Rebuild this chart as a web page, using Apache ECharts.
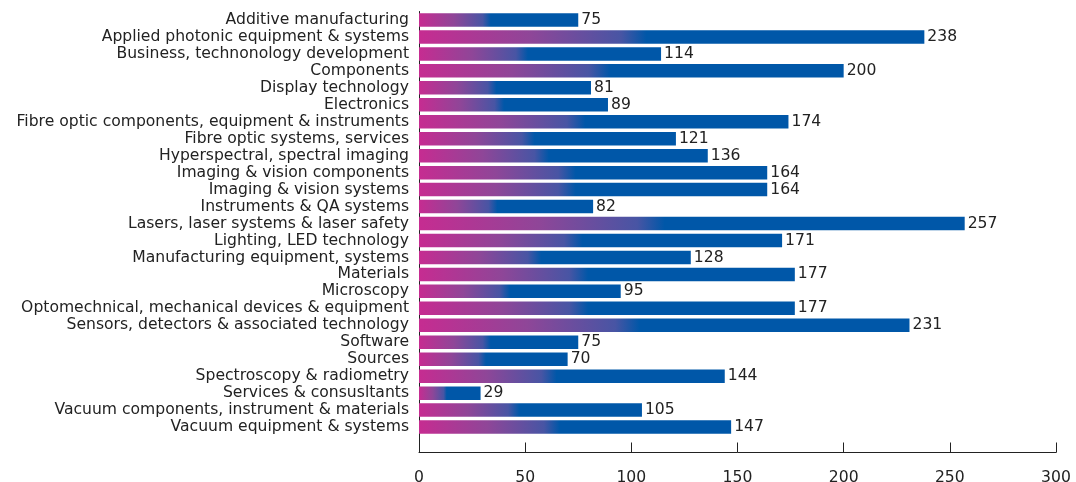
<!DOCTYPE html>
<html>
<head>
<meta charset="utf-8">
<script src="https://cdn.jsdelivr.net/npm/echarts@6/dist/echarts.min.js"></script>
<style>
html,body{margin:0;padding:0;background:#fff;}
#chart{width:1076px;height:482px;}
</style>
</head>
<body>
<div id="chart"></div>
<script>
const categories = [
  "Additive manufacturing",
  "Applied photonic equipment & systems",
  "Business, technonology development",
  "Components",
  "Display technology",
  "Electronics",
  "Fibre optic components, equipment & instruments",
  "Fibre optic systems, services",
  "Hyperspectral, spectral imaging",
  "Imaging & vision components",
  "Imaging & vision systems",
  "Instruments & QA systems",
  "Lasers, laser systems & laser safety",
  "Lighting, LED technology",
  "Manufacturing equipment, systems",
  "Materials",
  "Microscopy",
  "Optomechnical, mechanical devices & equipment",
  "Sensors, detectors & associated technology",
  "Software",
  "Sources",
  "Spectroscopy & radiometry",
  "Services & consusltants",
  "Vacuum components, instrument & materials",
  "Vacuum equipment & systems"
];
const values = [75, 238, 114, 200, 81, 89, 174, 121, 136, 164, 164, 82, 257, 171, 128, 177, 95, 177, 231, 75, 70, 144, 29, 105, 147];
const xTicks = [0, 50, 100, 150, 200, 250, 300];

const FONT = '"DejaVu Sans", sans-serif';
const grad = {
  type: 'linear', x: 0, y: 0, x2: 1, y2: 0,
  colorStops: [
    {offset: 0, color: '#c62c91'},
    {offset: 0.22, color: '#8f4698'},
    {offset: 0.40, color: '#4855a4'},
    {offset: 0.45, color: '#0057a8'},
    {offset: 1, color: '#0057a8'}
  ]
};
const cats = categories.concat(['']);
const vals = values.concat([null]);

const chart = echarts.init(document.getElementById('chart'));
chart.setOption({
  animation: false,
  grid: {left: 419, right: 20, top: 11.5, bottom: 29.5, containLabel: false, outerBoundsMode: 'none'},
  xAxis: {
    type: 'value', min: xTicks[0], max: xTicks[xTicks.length - 1], interval: 50,
    axisLine: {show: true, lineStyle: {color: '#222', width: 1}},
    axisTick: {show: true, inside: true, length: 10, lineStyle: {color: '#222'}},
    splitLine: {show: false},
    axisLabel: {color: '#222', fontFamily: FONT, fontSize: 15.6, margin: 17}
  },
  yAxis: {
    type: 'category', data: cats, inverse: true,
    axisLine: {show: true, lineStyle: {color: '#222', width: 1}},
    axisTick: {show: false},
    axisLabel: {color: '#222', fontFamily: FONT, fontSize: 15.6, margin: 10, interval: 0}
  },
  series: [{
    type: 'bar', data: vals, barWidth: 13.5,
    itemStyle: {color: grad},
    label: {show: true, position: 'right', distance: 3, color: '#222', fontFamily: FONT, fontSize: 15.6}
  }]
});
</script>
</body>
</html>
